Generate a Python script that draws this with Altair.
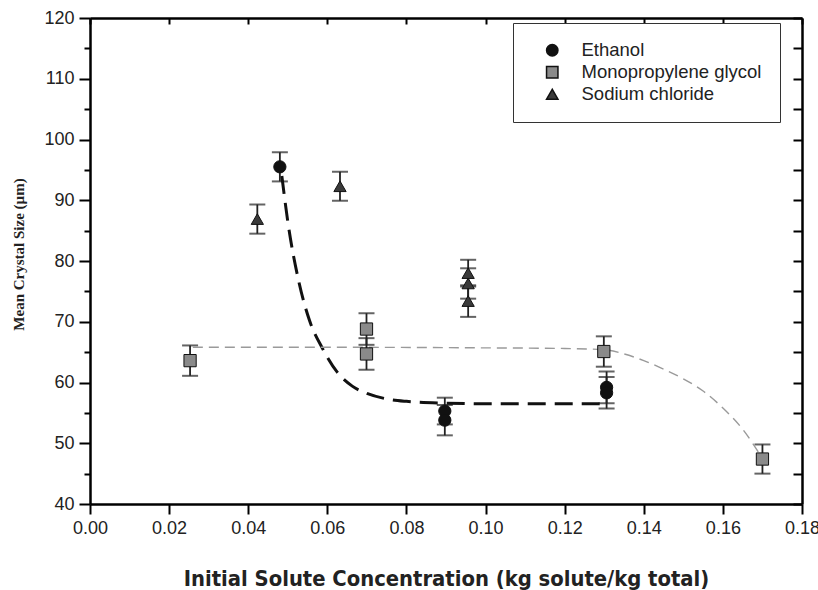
import altair as alt
import pandas as pd

series_names = ["Ethanol", "Monopropylene glycol", "Sodium chloride"]
series_shapes = ["circle", "square", "triangle-up"]
series_fills = ["#111111", "#8a8a8a", "#3a3a3a"]

# measured points (x = kg solute/kg total, y = mean crystal size, err = +/-)
eth_x = [0.048, 0.0897, 0.0897, 0.1306, 0.1306]
eth_y = [95.5, 55.3, 53.8, 59.2, 58.3]
eth_err = [2.4, 2.2, 2.5, 2.6, 2.6]

mpg_x = [0.0253, 0.0699, 0.0699, 0.1299, 0.170]
mpg_y = [63.6, 68.8, 64.7, 65.1, 47.4]
mpg_err = [2.5, 2.6, 2.6, 2.5, 2.4]

nacl_x = [0.0423, 0.0632, 0.0956, 0.0956, 0.0956]
nacl_y = [86.9, 92.3, 78.0, 76.3, 73.4]
nacl_err = [2.4, 2.4, 2.2, 2.5, 2.6]

# trend curves
eth_fit_x = [0.0485, 0.050, 0.0529, 0.0555, 0.0587, 0.0625, 0.0663, 0.070, 0.075, 0.080, 0.090, 0.100, 0.110, 0.120, 0.129]
eth_fit_y = [94.0, 86.5, 76.3, 70.2, 65.7, 61.7, 59.4, 58.2, 57.3, 56.9, 56.6, 56.5, 56.5, 56.5, 56.5]

mpg_fit_x = [0.026, 0.060, 0.100, 0.120, 0.130, 0.135, 0.140, 0.145, 0.150, 0.155, 0.160, 0.165, 0.170]
mpg_fit_y = [65.8, 65.8, 65.7, 65.6, 65.4, 64.7, 63.6, 62.2, 60.6, 58.6, 55.8, 52.3, 47.5]

x_ticks = [0.00, 0.02, 0.04, 0.06, 0.08, 0.10, 0.12, 0.14, 0.16, 0.18]
y_major = [40, 50, 60, 70, 80, 90, 100, 110, 120]
y_minor = [45, 55, 65, 75, 85, 95, 105, 115]
y_right = [40, 45, 50, 55, 60, 65, 70, 75, 80, 85, 90, 95, 100, 105, 110, 115, 120]

rows = []
for name, xs_, ys_, es_ in [
    (series_names[0], eth_x, eth_y, eth_err),
    (series_names[1], mpg_x, mpg_y, mpg_err),
    (series_names[2], nacl_x, nacl_y, nacl_err),
]:
    for a, b, e in zip(xs_, ys_, es_):
        rows.append({"series": name, "x": a, "y": b, "lo": b - e, "hi": b + e})
df = pd.DataFrame(rows)

eth_fit = pd.DataFrame({"x": eth_fit_x, "y": eth_fit_y})
mpg_fit = pd.DataFrame({"x": mpg_fit_x, "y": mpg_fit_y})

W, H = 712, 486
xs = alt.Scale(domain=[0, 0.18], nice=False, zero=False)
ys = alt.Scale(domain=[40, 120], nice=False, zero=False)

LBL = dict(labelFont="Liberation Sans", labelFontSize=18, labelColor="#222",
           domainColor="black", domainWidth=2.5, tickColor="black", tickWidth=2, grid=False)

x_main = alt.Axis(values=x_ticks, format=".2f", tickSize=10, labelPadding=5,
                  labelFlush=False, labelOverlap=False,
                  title="Initial Solute Concentration (kg solute/kg total)",
                  titleFont="DejaVu Sans Condensed, Liberation Sans Narrow, Liberation Sans",
                  titleFontSize=21.8, titleFontWeight="bold",
                  titleColor="#222", titleX=W / 2, titleY=74, titleBaseline="middle",
                  titleAlign="center", titleLimit=0, **LBL)
y_main = alt.Axis(values=y_major, format="d", tickSize=11, labelPadding=5,
                  labelFlush=False, labelOverlap=False,
                  title="Mean Crystal Size (µm)", titleFont="Liberation Serif",
                  titleFontSize=15, titleFontWeight="bold", titleColor="#222",
                  titleX=-72, titleY=236, titleBaseline="middle", titleAlign="center",
                  titleAngle=270, **LBL)

x_top = alt.Axis(orient="bottom", offset=-H, values=x_ticks, labels=False, tickSize=6,
                 title=None, domainColor="black", domainWidth=2.5, tickColor="black",
                 tickWidth=2, grid=False)
y_right_ax = alt.Axis(orient="left", offset=-W, values=y_right, labels=False, tickSize=9,
                      title=None, domainColor="black", domainWidth=2.5, tickColor="black",
                      tickWidth=2, grid=False)
y_minor_ax = alt.Axis(orient="left", values=y_minor, labels=False, tickSize=6, title=None,
                      domain=False, tickColor="black", tickWidth=2, grid=False)

base = alt.Chart(df)

rules = base.mark_rule(color="#222", strokeWidth=1.8).encode(
    x=alt.X("x:Q", scale=xs, axis=x_main),
    y=alt.Y("lo:Q", scale=ys, axis=y_main),
    y2="hi:Q",
)

caps = base.transform_fold(["lo", "hi"], as_=["end", "v"]).mark_tick(
    orient="horizontal", size=16, thickness=2, color="#222"
).encode(
    x=alt.X("x:Q", scale=xs, axis=x_top),
    y=alt.Y("v:Q", scale=ys, axis=y_right_ax),
)

eth_line = alt.Chart(eth_fit).mark_line(
    color="#111", strokeWidth=3, strokeDash=[18, 9], interpolate="monotone"
).encode(x=alt.X("x:Q", scale=xs, axis=None), y=alt.Y("y:Q", scale=ys, axis=None))

mpg_line = alt.Chart(mpg_fit).mark_line(
    color="#9a9a9a", strokeWidth=1.4, strokeDash=[10, 6], interpolate="monotone"
).encode(x=alt.X("x:Q", scale=xs, axis=None), y=alt.Y("y:Q", scale=ys, axis=None))

points = base.mark_point(filled=True, opacity=1, stroke="#111", strokeWidth=1).encode(
    x=alt.X("x:Q", scale=xs, axis=None),
    y=alt.Y("y:Q", scale=ys, axis=y_minor_ax),
    shape=alt.Shape("series:N", scale=alt.Scale(domain=series_names, range=series_shapes),
                    legend=alt.Legend(title=None, orient="none", legendX=423, legendY=5,
                                      padding=18, strokeColor="#333", fillColor="white",
                                      labelFont="Liberation Sans", labelFontSize=18.5,
                                      labelColor="#222", labelLimit=0, symbolSize=130,
                                      symbolFillColor="#111", symbolStrokeColor="#111",
                                      symbolOffset=12, labelOffset=20, rowPadding=3)),
    fill=alt.Fill("series:N", scale=alt.Scale(domain=series_names, range=series_fills),
                  legend=None),
    size=alt.value(150),
)

chart = alt.layer(rules, caps, eth_line, mpg_line, points).resolve_axis(
    x="independent", y="independent"
).properties(
    width=W, height=H,
    autosize=alt.AutoSizeParams(type="none"),
    padding={"left": 90, "top": 18, "right": 16, "bottom": 86},
).configure_view(stroke=None).configure(background="white")

chart.save("out.html", embed_options={"renderer": "svg", "actions": False})
